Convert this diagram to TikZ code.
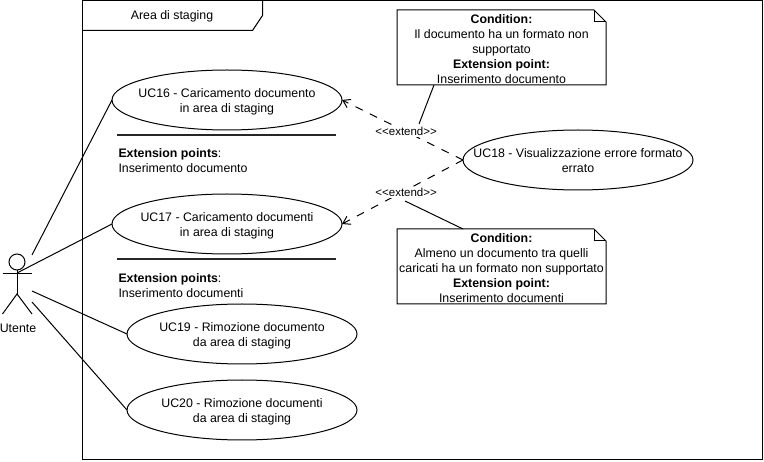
\documentclass[tikz,border=0pt]{standalone}
\usepackage{fontspec}
\setmainfont{Liberation Sans}
\usetikzlibrary{arrows.meta,shapes.geometric}
\tikzset{
  usecase/.style={draw, ellipse, minimum width=230pt, minimum height=60pt, inner sep=0pt, outer sep=0pt},
  casetext/.style={align=center, inner sep=0pt, yshift=-1.5pt},
  notebox/.style={minimum width=209pt, minimum height=75pt, inner sep=0pt, outer sep=0pt},
  extpoints/.style={anchor=north west, inner sep=0pt, align=left},
  extendline/.style={dashed, dash pattern=on 8pt off 8pt, -{Straight Barb[length=7pt,width=9pt]}},
  extendlabel/.style={fill=white, inner sep=1pt, font=\fontsize{11.5}{13}\selectfont},
  sepline/.style={line width=2pt, black!85}
}
\begin{document}
\begin{tikzpicture}[x=1pt, y=-1pt, line width=1pt, font=\fontsize{12.35}{15}\selectfont]
  \useasboundingbox (0,0) rectangle (764,462);
  % system frame
  \draw (82.5,0.5) rectangle (762.5,459.5);
  \draw (82.5,30.5) -- (252.5,30.5) -- (262.5,15.5) -- (262.5,0.5);
  \node[inner sep=0pt] (frametitle) at (172,16.5) {Area di staging};

  % actor
  \node[draw, circle, minimum size=16pt, inner sep=0pt, outer sep=0pt] (head) at (17,262) {};
  \coordinate (hip) at (17,294);
  \draw (head.south) -- (hip);
  \draw (2.5,274) -- (32,274);
  \draw (2.5,314) -- (hip) -- (32,314);
  \node[inner sep=0pt] (utente) at (18,328) {Utente};

  % use cases
  \node[usecase, label={[casetext]center:UC16 - Caricamento documento\\in area di staging}] (uc16) at (227,100) {};
  \node[usecase, label={[casetext]center:UC17 - Caricamento documenti\\in area di staging}] (uc17) at (227,224) {};
  \node[usecase, label={[casetext, yshift=1pt]center:UC18 - Visualizzazione errore formato\\errato}] (uc18) at (578,160) {};
  \node[usecase, label={[casetext]center:UC19 - Rimozione documento\\da area di staging}] (uc19) at (242,334) {};
  \node[usecase, label={[casetext]center:UC20 - Rimozione documenti\\da area di staging}] (uc20) at (242,410) {};

  % extension points
  \draw[sepline] (117,135.5) -- (336,135.5);
  \node[extpoints] (ext16) at (118,148.5) {\textbf{Extension points}:\\Inserimento documento};
  \draw[sepline] (117,259.5) -- (336,259.5);
  \node[extpoints] (ext17) at (118,273) {\textbf{Extension points}:\\Inserimento documenti};

  % notes
  \node[notebox, label={[casetext]center:\textbf{Condition:}\\Il documento ha un formato non\\supportato\\\textbf{Extension point:}\\Inserimento documento}] (note16) at (501.5,47.5) {};
  \node[notebox, label={[casetext]center:\textbf{Condition:}\\Almeno un documento tra quelli\\caricati ha un formato non supportato\\\textbf{Extension point:}\\Inserimento documenti}] (note17) at (501.5,266.5) {};
  \foreach \n in {note16,note17}{
    \draw (\n.south west) -- (\n.north west) -- ([xshift=-12pt]\n.north east) -- ([yshift=-12pt]\n.north east) -- (\n.south east) -- cycle;
    \draw ([xshift=-12pt]\n.north east) |- ([yshift=-12pt]\n.north east);
  }

  % connectors
  \coordinate (actor16) at (32,255);
  \coordinate (actor17) at (17,273);
  \coordinate (actor19) at (32,291);
  \coordinate (actor20) at (32,302);
  \draw (actor16) -- (uc16.west);
  \draw (actor17) -- (uc17.west);
  \draw (actor19) -- (uc19.west);
  \draw (actor20) -- (uc20.west);

  \draw[extendline] (uc18.west) -- node[extendlabel, pos=0.47] (extend16) {<{}<extend>{}>} (uc16.east);
  \draw[extendline] (uc18.west) -- node[extendlabel, pos=0.47, yshift=-2.5pt] (extend17) {<{}<extend>{}>} (uc17.east);

  \coordinate (link16) at (419,124);
  \coordinate (link17) at (405,201);
  \draw ([xshift=37pt]note16.south west) -- (link16);
  \draw ([xshift=66pt]note17.north west) -- (link17);
\end{tikzpicture}
\end{document}
